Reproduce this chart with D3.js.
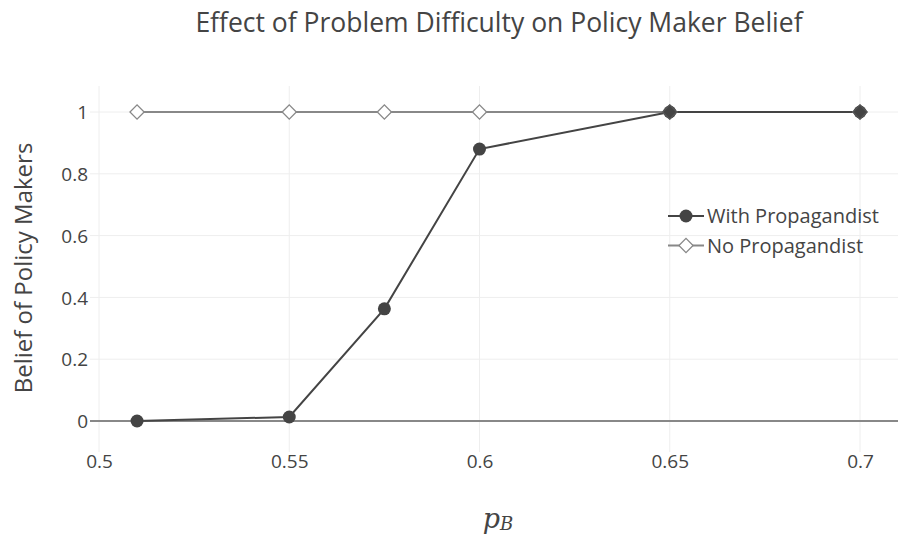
<!DOCTYPE html>
<html><head><meta charset="utf-8">
<script src="https://cdn.jsdelivr.net/npm/d3@7"></script>
<style>body{margin:0;background:#fff;font-family:"Open Sans",sans-serif;}</style>
</head><body><svg id="c" width="898" height="535"></svg>
<script>
const xValues = [0.51, 0.55, 0.575, 0.6, 0.65, 0.7];
const withProp = [0, 0.013, 0.363, 0.88, 1, 1];
const noProp = [1, 1, 1, 1, 1, 1];
const xTicks = [0.5, 0.55, 0.6, 0.65, 0.7];
const yTicks = [0, 0.2, 0.4, 0.6, 0.8, 1];
const seriesNames = ["With Propagandist", "No Propagandist"];

(function(){
const svg = d3.select("#c");
const x = d3.scaleLinear().domain([0.5, 0.7]).range([99, 860]);
const y = d3.scaleLinear().domain([0, 1]).range([421, 112]);
const pLeft = 90, pRight = 898, pTop = 86, pBottom = 452;

const g = svg.append("g");
g.selectAll(".vg").data(xTicks).enter().append("line")
  .attr("x1", d => x(d)).attr("x2", d => x(d)).attr("y1", pTop).attr("y2", pBottom)
  .attr("stroke", "#eee").attr("stroke-width", 1);
g.selectAll(".hg").data(yTicks.filter(d => d !== 0)).enter().append("line")
  .attr("x1", pLeft).attr("x2", pRight).attr("y1", d => y(d)).attr("y2", d => y(d))
  .attr("stroke", "#eee").attr("stroke-width", 1);
g.append("line").attr("x1", pLeft).attr("x2", pRight).attr("y1", y(0)).attr("y2", y(0))
  .attr("stroke", "#888").attr("stroke-width", 2);

const xAxis = d3.axisBottom(x).tickValues(xTicks).tickSize(0).tickPadding(0).tickFormat(d => d3.format("")(d));
const xa = svg.append("g").attr("transform", `translate(0,${pBottom})`).call(xAxis);
xa.select(".domain").remove();
xa.selectAll("text").attr("dy", "0").attr("y", 16).attr("font-size", 19).attr("fill", "#444").attr("font-family", "Open Sans");
const yAxis = d3.axisLeft(y).tickValues(yTicks).tickSize(0).tickPadding(0).tickFormat(d => d3.format("")(d));
const ya = svg.append("g").attr("transform", `translate(${pLeft - 2},0)`).call(yAxis);
ya.select(".domain").remove();
ya.selectAll("text").attr("x", 0).attr("dy", "0.35em").attr("font-size", 19).attr("fill", "#444").attr("font-family", "Open Sans");

const line = d3.line().x(d => x(d[0])).y(d => y(d[1]));
const noData = xValues.map((v, i) => [v, noProp[i]]);
const withData = xValues.map((v, i) => [v, withProp[i]]);
svg.append("path").datum(noData).attr("d", line).attr("fill", "none").attr("stroke", "#888").attr("stroke-width", 2);
svg.append("path").datum(withData).attr("d", line).attr("fill", "none").attr("stroke", "#444").attr("stroke-width", 2);

const diamond = d3.symbol().type(d3.symbolSquare).size(100);
svg.selectAll(".np").data(noData).enter().append("path")
  .attr("d", diamond)
  .attr("transform", d => `translate(${x(d[0])},${y(d[1])}) rotate(45)`)
  .attr("fill", "#fff").attr("stroke", "#888").attr("stroke-width", 1.3);
svg.selectAll(".wp").data(withData).enter().append("circle")
  .attr("cx", d => x(d[0])).attr("cy", d => y(d[1])).attr("r", 6.5)
  .attr("fill", "#444");
svg.selectAll(".np2").data(noData.filter((d, i) => withProp[i] === 1)).enter().append("path")
  .attr("d", diamond)
  .attr("transform", d => `translate(${x(d[0])},${y(d[1])}) rotate(45)`)
  .attr("fill", "#444").attr("stroke", "#555").attr("stroke-width", 1.3);

const lg = svg.append("g").attr("transform", "translate(668,216)");
seriesNames.forEach((name, i) => {
  const gy = i * 29.5;
  const col = i === 0 ? "#444" : "#888";
  lg.append("line").attr("x1", 0).attr("x2", 36).attr("y1", gy).attr("y2", gy).attr("stroke", col).attr("stroke-width", 2);
  if (i === 0) lg.append("circle").attr("cx", 18).attr("cy", gy).attr("r", 6.5).attr("fill", "#444");
  else lg.append("path").attr("d", diamond).attr("transform", `translate(18,${gy}) rotate(45)`).attr("fill", "#fff").attr("stroke", "#888").attr("stroke-width", 1.3);
  lg.append("text").attr("x", 39).attr("y", gy).attr("dy", "0.35em").attr("font-size", 20).attr("fill", "#444").text(name);
});

svg.append("text").attr("x", 499).attr("y", 32).attr("text-anchor", "middle").attr("font-size", 26.5).attr("fill", "#444").text("Effect of Problem Difficulty on Policy Maker Belief");
svg.append("text").attr("transform", "translate(32,268) rotate(-90)").attr("text-anchor", "middle").attr("font-size", 24).attr("fill", "#444").text("Belief of Policy Makers");
const xt = svg.append("text").attr("x", 498).attr("y", 528).attr("text-anchor", "middle").attr("fill", "#444").attr("font-family", "DejaVu Serif, serif").attr("font-style", "italic");
xt.append("tspan").attr("font-size", 27).text("p");
xt.append("tspan").attr("font-size", 18).attr("dy", 2).text("B");
})();
</script></body></html>
